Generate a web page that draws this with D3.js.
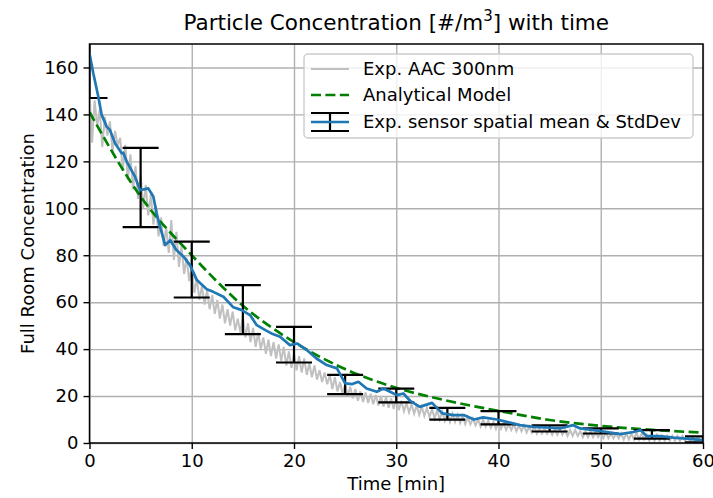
<!DOCTYPE html>
<html lang="en">
<head>
    <meta charset="UTF-8">
    <title>Particle Concentration</title>
    <style>
        body { margin: 0; background: #fff; }
        text { font-family: "DejaVu Sans", sans-serif; fill: #000; }
    </style>
</head>
<body>
<script src="https://d3js.org/d3.v7.min.js"></script>
<script>
    // data
    var xTicks = [0, 10, 20, 30, 40, 50, 60],
        yTicks = [0, 20, 40, 60, 80, 100, 120, 140, 160];

    var blueT = [0, 0.37, 0.86, 1.19, 1.68, 2.0, 2.5, 3.15, 3.3, 3.64, 4.45, 4.95, 5.75, 6.24, 6.57, 6.9, 7.4, 7.9, 8.5, 9.2, 9.83, 10.5, 11.47,
                 12.1, 13.1, 14.07, 14.9, 15.7, 16.36, 17.2, 17.8, 18.64, 19.6, 20.3, 21.25, 22.2, 23.2, 24.2, 25.0, 25.7, 26.3, 27.1,
                 28.1, 28.75, 29.4, 30.05, 30.7, 31.4, 32.3, 33.5, 34.5, 35.6, 36.6, 37.6, 38.5, 39.85, 40.8, 42.1, 43.4, 44.7, 46.0,
                 47.3, 48.0, 49.3, 50.6, 51.9, 53.2, 53.9, 54.5, 55.8, 57.1, 58.4, 60];
    var blueV = [166, 157.5, 147.6, 139.8, 134.8, 133.4, 127.7, 123.4, 123.7, 119.9, 113.5, 107.7, 108.5, 105, 97.9, 92.2, 84.3, 86.4, 82.2, 79.4, 75.8, 69.4, 65.5,
                 64.4, 62.3, 57.8, 56.6, 54.5, 50.2, 48.1, 46.7, 45.3, 41.7, 42.4, 39.6, 36.0, 33.2, 31.8, 25.4, 25.1, 26.1, 23.2,
                 21.8, 23.2, 21.8, 20.4, 21.1, 17.8, 15.4, 17.1, 12.6, 11.9, 11.9, 10.0, 10.9, 10.0, 9.0, 7.6, 6.9, 6.6, 6.2,
                 7.6, 6.2, 5.5, 4.7, 3.75, 4.7, 5.5, 2.9, 2.9, 2.3, 1.9, 1.2];

    // raw AAC trace, every quarter minute
    var grayStep = 0.25;
    var grayV = [150, 128, 146, 135, 142, 126, 139, 131, 137, 124, 133, 127,
                 130, 116, 127, 112, 123, 108, 118, 104, 114, 100, 110, 97,
                 106, 93, 101, 88, 96, 84, 92, 81, 95, 78, 90, 75,
                 84, 72, 79, 69, 75, 64, 70, 61, 67, 59, 65, 57,
                 63, 55, 61, 53, 59, 51, 57, 50, 56, 48, 53, 47,
                 54, 45, 51, 43, 49, 41, 47, 40, 45, 38, 44, 37,
                 43, 36, 42, 35, 41, 33, 39, 32, 38, 31, 37, 30,
                 36, 29, 34, 28, 33, 27, 31, 26, 30, 25, 29, 23,
                 28, 22, 26, 21, 25, 20, 24, 19, 23, 18, 22, 17.5,
                 21.5, 17, 21, 16.5, 20.5, 16, 20, 15.5, 19.5, 15, 19, 14.5,
                 19, 14, 18, 13.5, 17, 13, 16.5, 12.5, 16, 12, 15.5, 11.5,
                 15, 11, 14.5, 10.5, 14, 10, 13.5, 9.5, 13, 9, 12.5, 9,
                 12, 8.5, 11.5, 8, 11, 8, 10.5, 7.5, 10, 7, 10, 7,
                 9.5, 6.5, 9, 6, 9, 6, 8.5, 5.5, 8, 5.5, 8, 5,
                 7.5, 5, 7.5, 4.5, 7, 4.5, 7, 4, 6.5, 4, 6.5, 4,
                 6, 3.5, 6, 3.5, 6, 3.5, 5.5, 3, 5.5, 3, 5.5, 3,
                 5, 2.5, 5, 2.5, 5, 2.5, 4.5, 2.5, 4.5, 2, 4.5, 2,
                 4, 2, 4, 2, 4, 1.5, 4, 1.5, 4, 1.5, 4.5, 1.5,
                 4, 1.5, 3.5, 1, 3.5, 1, 3.5, 1, 3, 1, 3, 1,
                 3, 1, 3, 0.8, 3, 0.8, 2.5, 0.8, 2.5, 0.8, 2.5, 0.8,
                 2];

    var modelT = [0, 5, 10, 15, 20, 25, 30, 35, 40, 45, 50, 55, 60],
        modelV = [141, 105, 80, 58.5, 43, 31.5, 23.5, 18, 13.7, 9.8, 7.3, 5.6, 4.4];

    var errT  = [0, 5, 10, 15, 20, 25, 30, 35, 40, 45, 50, 55, 60],
        errLo = [147, 92, 62, 46.4, 34.3, 20.8, 17.3, 10.0, 7.9, 4.9, 4.05, 1.9, 0.3],
        errHi = [185, 125.7, 85.8, 67.3, 49.5, 29.0, 23.2, 15.0, 13.6, 7.5, 6.2, 5.5, 2.8];

    var W = 713, H = 498,
        padL = 89.5, padR = 703, padT = 44, padB = 443;

    var svg = d3.select('body').append('svg')
                .attr('width', W)
                .attr('height', H);

    var x = d3.scaleLinear().domain([0, 60]).range([padL, padR]);
    var y = d3.scaleLinear().domain([0, 170]).range([padB, padT]);

    svg.append('clipPath').attr('id', 'plot')
       .append('rect')
       .attr('x', padL).attr('y', padT)
       .attr('width', padR - padL).attr('height', padB - padT);

    // grid
    svg.append('g')
       .attr('transform', 'translate(0,' + padB + ')')
       .call(d3.axisBottom(x).tickValues(xTicks).tickSize(-(padB - padT)).tickFormat(''))
       .call(function(g) {
           g.select('.domain').remove();
           g.selectAll('line').attr('stroke', '#b0b0b0').attr('stroke-width', 1.4);
       });
    svg.append('g')
       .attr('transform', 'translate(' + padL + ',0)')
       .call(d3.axisLeft(y).tickValues(yTicks).tickSize(-(padR - padL)).tickFormat(''))
       .call(function(g) {
           g.select('.domain').remove();
           g.selectAll('line').attr('stroke', '#b0b0b0').attr('stroke-width', 1.4);
       });

    var plot = svg.append('g').attr('clip-path', 'url(#plot)');

    var grayLine = d3.line()
        .x(function(d, i) { return x(i * grayStep); })
        .y(function(d) { return y(d); });
    plot.append('path')
        .datum(grayV)
        .attr('d', grayLine)
        .attr('fill', 'none')
        .attr('stroke', '#c0c0c0')
        .attr('stroke-width', 2);

    var modelLine = d3.line()
        .x(function(d) { return x(d); })
        .y(function(d, i) { return y(modelV[i]); })
        .curve(d3.curveMonotoneX);
    plot.append('path')
        .datum(modelT)
        .attr('d', modelLine)
        .attr('fill', 'none')
        .attr('stroke', '#008000')
        .attr('stroke-width', 2.7)
        .attr('stroke-dasharray', '10,4.4');

    // error bars
    var cap = 18;
    var eb = plot.append('g').attr('stroke', '#000').attr('stroke-width', 2.2);
    errT.forEach(function(t, i) {
        eb.append('line')
          .attr('x1', x(t)).attr('x2', x(t))
          .attr('y1', y(errLo[i])).attr('y2', y(errHi[i]));
        [errLo[i], errHi[i]].forEach(function(v) {
            eb.append('line')
              .attr('x1', x(t) - cap).attr('x2', x(t) + cap)
              .attr('y1', y(v)).attr('y2', y(v));
        });
    });

    var blueLine = d3.line()
        .x(function(d) { return x(d); })
        .y(function(d, i) { return y(blueV[i]); });
    plot.append('path')
        .datum(blueT)
        .attr('d', blueLine)
        .attr('fill', 'none')
        .attr('stroke', '#1f77b4')
        .attr('stroke-width', 2.7)
        .attr('stroke-linejoin', 'round');

    // spines
    svg.append('rect')
       .attr('x', padL).attr('y', padT)
       .attr('width', padR - padL).attr('height', padB - padT)
       .attr('fill', 'none')
       .attr('stroke', '#000')
       .attr('stroke-width', 1.5);

    // ticks + labels
    svg.append('g')
       .attr('transform', 'translate(0,' + padB + ')')
       .call(d3.axisBottom(x).tickValues(xTicks).tickSize(6).tickPadding(5))
       .call(function(g) {
           g.select('.domain').remove();
           g.selectAll('line').attr('stroke', '#000').attr('stroke-width', 1.4);
           g.selectAll('text').attr('font-size', 18).attr('font-family', 'DejaVu Sans').attr('fill', '#000');
       });
    svg.append('g')
       .attr('transform', 'translate(' + padL + ',0)')
       .call(d3.axisLeft(y).tickValues(yTicks).tickSize(6).tickPadding(5))
       .call(function(g) {
           g.select('.domain').remove();
           g.selectAll('line').attr('stroke', '#000').attr('stroke-width', 1.4);
           g.selectAll('text').attr('font-size', 18).attr('font-family', 'DejaVu Sans').attr('fill', '#000');
       });

    // title
    var title = svg.append('text')
       .attr('x', (padL + padR) / 2).attr('y', 30)
       .attr('text-anchor', 'middle')
       .attr('font-size', 21.5);
    title.append('tspan').text('Particle Concentration [#/m');
    title.append('tspan').attr('font-size', 15).attr('dy', -9).text('3');
    title.append('tspan').attr('dy', 9).text('] with time');

    svg.append('text')
       .attr('x', (padL + padR) / 2).attr('y', 490)
       .attr('text-anchor', 'middle')
       .attr('font-size', 18)
       .text('Time [min]');

    svg.append('text')
       .attr('transform', 'translate(34,' + (padT + padB) / 2 + ') rotate(-90)')
       .attr('text-anchor', 'middle')
       .attr('font-size', 18)
       .text('Full Room Concentration');

    // legend
    var lg = svg.append('g');
    lg.append('rect')
      .attr('x', 304).attr('y', 54)
      .attr('width', 389).attr('height', 84)
      .attr('rx', 4)
      .attr('fill', '#fff').attr('fill-opacity', 0.8)
      .attr('stroke', '#cccccc').attr('stroke-width', 1.4);

    var hx0 = 311, hx1 = 349, tx = 363, rows = [69, 95, 122];
    lg.append('line')
      .attr('x1', hx0).attr('x2', hx1).attr('y1', rows[0]).attr('y2', rows[0])
      .attr('stroke', '#c0c0c0').attr('stroke-width', 2.2);
    lg.append('line')
      .attr('x1', hx0).attr('x2', hx1).attr('y1', rows[1]).attr('y2', rows[1])
      .attr('stroke', '#008000').attr('stroke-width', 2.7).attr('stroke-dasharray', '10,4.4');
    var hm = (hx0 + hx1) / 2;
    lg.append('line').attr('x1', hm).attr('x2', hm).attr('y1', rows[2] - 9).attr('y2', rows[2] + 9)
      .attr('stroke', '#000').attr('stroke-width', 2.2);
    [rows[2] - 9, rows[2] + 9].forEach(function(v) {
        lg.append('line').attr('x1', hx0).attr('x2', hx1).attr('y1', v).attr('y2', v)
          .attr('stroke', '#000').attr('stroke-width', 2.2);
    });
    lg.append('line')
      .attr('x1', hx0).attr('x2', hx1).attr('y1', rows[2]).attr('y2', rows[2])
      .attr('stroke', '#1f77b4').attr('stroke-width', 2.7);

    var labels = ['Exp. AAC 300nm', 'Analytical Model', 'Exp. sensor spatial mean & StdDev'];
    labels.forEach(function(s, i) {
        lg.append('text')
          .attr('x', tx).attr('y', rows[i])
          .attr('dy', '0.35em')
          .attr('font-size', 18)
          .text(s);
    });
</script>
</body>
</html>
